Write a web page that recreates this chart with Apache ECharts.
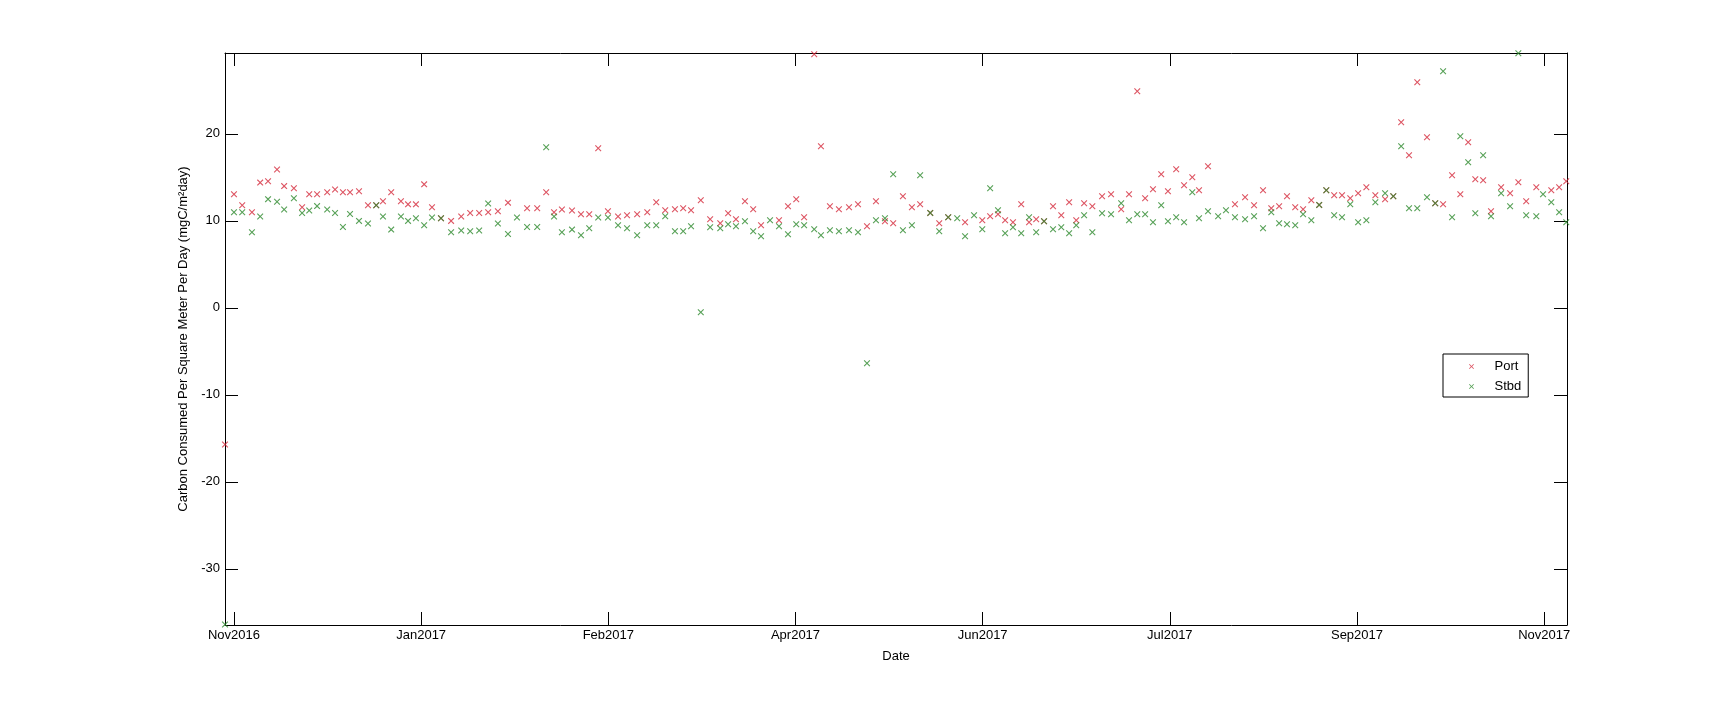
<!DOCTYPE html>
<html>
<head>
<meta charset="utf-8">
<script src="https://cdn.jsdelivr.net/npm/echarts@6/dist/echarts.min.js"></script>
<style>
html,body{margin:0;padding:0;background:#fff;}
#chart{width:1732px;height:702px;}
</style>
</head>
<body>
<div id="chart"></div>
<script>
// Days since 16 Nov 2016 (the first x tick)
const dayOffsets = [
 -2.4, 0.0, 2.2, 4.8, 7.0, 9.1, 11.5, 13.4, 16.0, 18.2, 20.1, 22.2, 24.9, 27.0, 29.1, 31.0, 33.4, 35.8, 38.0, 39.8,
 42.0, 44.6, 46.5, 48.6, 50.8, 52.9, 55.3, 58.0, 60.7, 63.1, 65.5, 67.9, 70.5, 73.2, 75.6, 78.3, 81.0, 83.4, 85.5, 87.6,
 90.3, 92.7, 94.9, 97.3, 99.9, 102.6, 105.0, 107.7, 110.4, 112.8, 115.2, 117.8, 120.0, 122.1, 124.7, 127.2, 129.9, 132.0, 134.1, 136.5,
 138.7, 140.8, 143.2, 145.6, 148.0, 150.2, 152.3, 155.0, 156.8, 159.2, 161.6, 164.3, 166.7, 169.1, 171.5, 173.9, 176.1, 178.7, 181.1, 183.3,
 186.0, 188.4, 190.8, 193.2, 195.3, 197.7, 199.9, 202.0, 204.1, 206.0, 208.1, 210.3, 212.4, 214.3, 216.4, 218.8, 221.0, 223.1, 225.0, 227.1,
 229.3, 231.9, 234.3, 237.0, 239.1, 241.3, 243.4, 245.5, 247.7, 249.5, 251.7, 253.8, 256.0, 257.8, 260.2, 262.9, 265.0, 267.4, 270.1, 272.5,
 274.9, 277.1, 279.2, 281.3, 283.5, 285.6, 287.8, 289.9, 291.8, 293.9, 296.0, 298.2, 300.3, 302.5, 304.9, 307.5, 309.7, 311.8, 313.9, 316.1,
 318.7, 320.9, 323.0, 325.4, 327.6, 329.7, 331.6, 333.7, 335.8, 338.5, 340.9, 343.1, 345.2, 347.9, 349.7, 351.9, 354.0, 355.9
];
const portValues = [
 -15.7, 13.07, 11.8, 11.0, 14.4, 14.56, 15.9, 14.0, 13.75, 11.57, 13.07, 13.07, 13.3, 13.6, 13.3, 13.3, 13.4, 11.8, 11.8, 12.26,
 13.3, 12.26, 11.9, 11.9, 14.2, 11.57, 10.3, 10.0, 10.5, 10.9, 10.9, 11.0, 11.1, 12.1, null, 11.46, 11.46, 13.3, 11.0, 11.3,
 11.2, 10.77, 10.77, 18.35, 11.1, 10.5, 10.65, 10.77, 11.0, 12.15, 11.23, 11.34, 11.46, 11.23, 12.38, 10.19, 9.73, 10.88, 10.19, 12.26,
 11.34, 9.5, null, 10.08, 11.69, 12.49, 10.42, 29.16, 18.58, 11.69, 11.34, 11.57, 11.92, 9.39, 12.26, 9.96, 9.73, 12.84, 11.57, 11.92,
 10.92, 9.73, 10.42, null, 9.85, null, 10.08, 10.54, 10.77, 10.08, 9.85, 11.92, 9.85, 10.19, 9.96, 11.69, 10.65, 12.15, 10.08, 12.03,
 11.69, 12.84, 13.07, 11.34, 13.07, 24.9, 12.6, 13.64, 15.36, 13.41, 15.94, 14.1, 15.02, 13.52, 16.28, null, null, 11.92, 12.72, 11.8,
 13.52, 11.46, 11.69, 12.84, 11.57, 11.34, 12.38, 11.84, 13.52, 12.95, 12.95, 12.6, 13.18, 13.87, 12.95, 12.49, 12.84, 21.34, 17.55, 25.94,
 19.62, 12.03, 11.92, 15.25, 13.07, 19.04, 14.79, 14.67, 11.11, 13.87, 13.18, 14.44, 12.26, 13.87, null, 13.52, 13.87, 14.56
];
const stbdValues = [
 -36.4, 11.0, 11.0, 8.7, 10.5, 12.5, 12.2, 11.3, 12.6, 10.9, 11.2, 11.7, 11.3, 10.9, 9.3, 10.8, 10.0, 9.7, 11.8, 10.5,
 9.0, 10.5, 10.0, 10.3, 9.5, 10.4, 10.3, 8.7, 8.9, 8.8, 8.9, 12.0, 9.7, 8.5, 10.4, 9.3, 9.3, 18.47, 10.5, 8.7,
 9.0, 8.35, 9.16, 10.4, 10.4, 9.5, 9.16, 8.35, 9.5, 9.5, 10.54, 8.8, 8.8, 9.39, -0.5, 9.27, 9.16, 9.62, 9.39, 9.96,
 8.81, 8.24, 10.08, 9.39, 8.47, 9.62, 9.5, 9.04, 8.35, 8.93, 8.81, 8.93, 8.7, -6.36, 10.08, 10.3, 15.36, 8.93, 9.5, 15.25,
 10.92, 8.81, 10.42, 10.3, 8.24, 10.65, 9.04, 13.75, 11.23, 8.58, 9.27, 8.58, 10.42, 8.7, 9.96, 9.04, 9.27, 8.58, 9.5, 10.65,
 8.7, 10.88, 10.77, 12.03, 10.08, 10.77, 10.77, 9.85, 11.8, 9.96, 10.42, 9.85, 13.3, 10.3, 11.11, 10.54, 11.23, 10.42, 10.19, 10.54,
 9.16, 11.0, 9.73, 9.62, 9.5, 10.77, 10.08, 11.84, 13.52, 10.65, 10.42, 11.92, 9.85, 10.08, 12.15, 13.18, 12.84, 18.58, 11.46, 11.46,
 12.72, 12.03, 27.2, 10.42, 19.73, 16.74, 10.88, 17.55, 10.54, 13.18, 11.69, 29.27, 10.65, 10.54, 13.07, 12.15, 11.0, 9.85
];
const xTickDays = [0, 50, 100, 150, 200, 250, 300, 350];
const xTickLabels = ['Nov2016', 'Jan2017', 'Feb2017', 'Apr2017', 'Jun2017', 'Jul2017', 'Sep2017', 'Nov2017'];
const yTickValues = [-30, -20, -10, 0, 10, 20];

const FONT = 'Liberation Sans';
const X_MIN = -2.4, X_MAX = 356.1, Y_MIN = -36.45, Y_MAX = 29.3;
const crossPath = 'path://M0,1.2L1.2,0L5,3.8L8.8,0L10,1.2L6.2,5L10,8.8L8.8,10L5,6.2L1.2,10L0,8.8L3.8,5Z';

function pairs(vals) {
  const out = [];
  dayOffsets.forEach((d, i) => { if (vals[i] !== null) out.push([d, vals[i]]); });
  return out;
}

const axisLineStyle = { show: true, onZero: false, lineStyle: { color: '#000', width: 1 } };
const tickStyle = (vals) => ({ show: true, inside: true, length: 13, customValues: vals, lineStyle: { color: '#000', width: 1 } });

const chart = echarts.init(document.getElementById('chart'));
chart.setOption({
  backgroundColor: '#fff',
  animation: false,
  textStyle: { fontFamily: FONT },
  grid: { left: 225, right: 165, top: 53, bottom: 77 },
  legend: {
    orient: 'vertical',
    left: 1443, top: 354,
    padding: [6, 7, 4, 26],
    borderColor: '#000', borderWidth: 1,
    itemWidth: 36, itemHeight: 5, itemGap: 7,
    textStyle: { fontFamily: FONT, fontSize: 13, color: '#000' },
    data: [{ name: 'Port', icon: crossPath }, { name: 'Stbd', icon: crossPath }]
  },
  xAxis: [
    {
      type: 'value', position: 'bottom', min: X_MIN, max: X_MAX,
      name: 'Date', nameLocation: 'middle', nameGap: 25,
      nameTextStyle: { fontFamily: FONT, fontSize: 13, color: '#000' },
      axisLine: axisLineStyle,
      axisTick: tickStyle(xTickDays),
      axisLabel: {
        customValues: xTickDays, margin: 4, fontFamily: FONT, fontSize: 13, color: '#000',
        formatter: (v) => xTickLabels[xTickDays.indexOf(Math.round(v))] || ''
      },
      splitLine: { show: false }
    },
    {
      type: 'value', position: 'top', min: X_MIN, max: X_MAX,
      axisLine: axisLineStyle,
      axisTick: tickStyle(xTickDays),
      axisLabel: { show: false },
      splitLine: { show: false }
    }
  ],
  yAxis: [
    {
      type: 'value', position: 'left', min: Y_MIN, max: Y_MAX,
      name: 'Carbon Consumed Per Square Meter Per Day (mgC/m\u00B2day)',
      nameLocation: 'middle', nameGap: 30,
      nameTextStyle: { fontFamily: FONT, fontSize: 13, color: '#000' },
      axisLine: axisLineStyle,
      axisTick: tickStyle(yTickValues),
      axisLabel: { customValues: yTickValues, margin: 5, fontFamily: FONT, fontSize: 13, color: '#000' },
      splitLine: { show: false }
    },
    {
      type: 'value', position: 'right', min: Y_MIN, max: Y_MAX,
      axisLine: axisLineStyle,
      axisTick: tickStyle(yTickValues),
      axisLabel: { show: false },
      splitLine: { show: false }
    }
  ],
  series: [
    {
      name: 'Port', type: 'scatter', xAxisIndex: 0, yAxisIndex: 0,
      symbol: crossPath, symbolSize: 6.5,
      itemStyle: { color: '#d42a3c' },
      data: pairs(portValues)
    },
    {
      name: 'Stbd', type: 'scatter', xAxisIndex: 0, yAxisIndex: 0,
      symbol: crossPath, symbolSize: 6.5,
      itemStyle: { color: '#2d8a2d' },
      data: pairs(stbdValues)
    }
  ]
});
</script>
</body>
</html>
